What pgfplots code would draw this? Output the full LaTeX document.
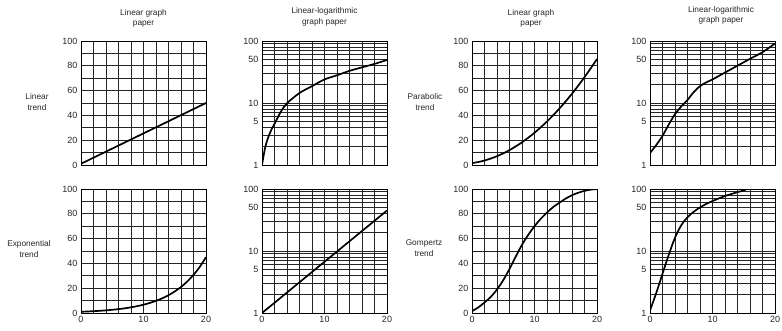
\documentclass[border=0pt]{standalone}
\usepackage{fontspec}
\setmainfont{Liberation Sans}
\usepackage{pgfplots}
\usepackage{pgfplotstable}
\pgfplotsset{compat=1.18}

\pgfplotstableread{
x y
0 1.0
20 50
}\lineartrend
\pgfplotstableread{
x y
0 1.0
0.5 1.9
1 2.8
1.5 3.7
2 4.6
3 7.2
4 9.9
6 14.5
8 18.7
10 24
12 28
14 33
16 37.6
18 42.7
20 49.5
}\lineartrendlog
\pgfplotstableread{
x y
0 1.0
1 1.21
2 1.46
3 1.77
4 2.14
5 2.59
6 3.13
7 3.79
8 4.58
9 5.54
10 6.71
11 8.11
12 9.81
13 11.87
14 14.36
15 17.37
16 21.01
17 25.41
18 30.74
19 37.18
20 45.0
}\exptrend
\pgfplotstableread{
x y
0 1.5
1 2.4
2 3.6
3 5.2
4 7.1
5 9.4
6 12.0
7 15.0
8 18.3
9 22.0
10 26.0
11 30.4
12 35.1
13 40.2
14 45.6
15 51.4
16 57.5
17 64.0
18 70.8
19 78.0
20 85.5
}\partrend
\pgfplotstableread{
x y
0 1.56
1 2.1
2 2.95
3 4.5
4 6.6
5 8.8
6 11.2
7 15.0
8 18.7
9 21.5
10 24
12 31
14 40
16 51.6
18 66
20 91
}\partrendlog
\pgfplotstableread{
x y
0 1.5
1 4.5
2 8.5
3 13
4 19
5 26.5
6 35.5
7 45.5
8 55
9 63
10 70
11 76
12 81
13 85.5
14 89
15 92.3
16 95
17 97
18 98.5
19 99.5
20 100
}\gomtrend
\pgfplotstableread{
x y
0 1.1
1 2.1
2 4.3
3 8.7
4 16.4
5 26
6 35
7 43
8 50.5
9 57.5
10 64
11 70.5
12 77
13 83
14 89
15 95
15.5 100
}\gomtrendlog

\pgfplotsset{
  paper/.style={scale only axis, width=125pt, height=124pt,
    xmin=0, xmax=20, xtick={0,10,20}, minor xtick={2,4,...,18},
    grid=both,
    major grid style={black!85, line width=0.8pt},
    minor grid style={black!85, line width=0.8pt},
    axis line style={black, line width=1pt},
    tick style={draw=none},
    tick label style={font=\fontsize{9}{10}\selectfont, text=black!85},
    /pgf/number format/assume math mode=true,
    anchor=south west},
  linpaper/.style={paper, ymin=0, ymax=100, ytick={0,20,...,100}, minor ytick={10,30,...,90}},
  logpaper/.style={paper, ymin=1, ymax=100, ytick={1,5,10,50,100},
    yticklabels={1,5,10,50,100},
    minor ytick={2,3,4,6,7,8,9,20,30,40,60,70,80,90}},
  toprow/.style={xticklabels={}},
  curve/.style={black, line width=1.7pt, smooth, no marks}
}

\begin{document}
\begin{tikzpicture}
\useasboundingbox (0pt,0pt) rectangle (782pt,330pt);

% top row
\begin{axis}[linpaper, toprow, at={(81pt,165pt)}]
\addplot[curve] table {\lineartrend};
\end{axis}
\begin{axis}[ymode=log, logpaper, toprow, at={(262pt,165pt)}]
\addplot[curve] table {\lineartrendlog};
\end{axis}
\begin{axis}[linpaper, toprow, at={(472pt,165pt)}]
\addplot[curve] table {\partrend};
\end{axis}
\begin{axis}[ymode=log, logpaper, toprow, at={(650pt,165pt)}]
\addplot[curve] table {\partrendlog};
\end{axis}

% bottom row
\begin{axis}[linpaper, at={(81pt,17pt)}]
\addplot[curve] table {\exptrend};
\end{axis}
\begin{axis}[ymode=log, logpaper, at={(262pt,17pt)}]
\addplot[curve] table {\exptrend};
\end{axis}
\begin{axis}[linpaper, at={(472pt,17pt)}]
\addplot[curve] table {\gomtrend};
\end{axis}
\begin{axis}[ymode=log, logpaper, at={(650pt,17pt)}]
\addplot[curve] table {\gomtrendlog};
\end{axis}

\tikzset{lbl/.style={align=center, font=\fontsize{8.3}{10.5}\selectfont, text=black!85, inner sep=0pt}}
\node[lbl] at (143.5pt,311.5pt) {Linear graph\\paper};
\node[lbl] at (324.5pt,313pt) {Linear-logarithmic\\graph paper};
\node[lbl] at (531pt,311.5pt) {Linear graph\\paper};
\node[lbl] at (721pt,314.5pt) {Linear-logarithmic\\graph paper};

\node[lbl] at (37pt,228pt) {Linear\\trend};
\node[lbl] at (29pt,81pt) {Exponential\\trend};
\node[lbl] at (425pt,228pt) {Parabolic\\trend};
\node[lbl] at (424pt,82pt) {Gompertz\\trend};
\end{tikzpicture}
\end{document}
